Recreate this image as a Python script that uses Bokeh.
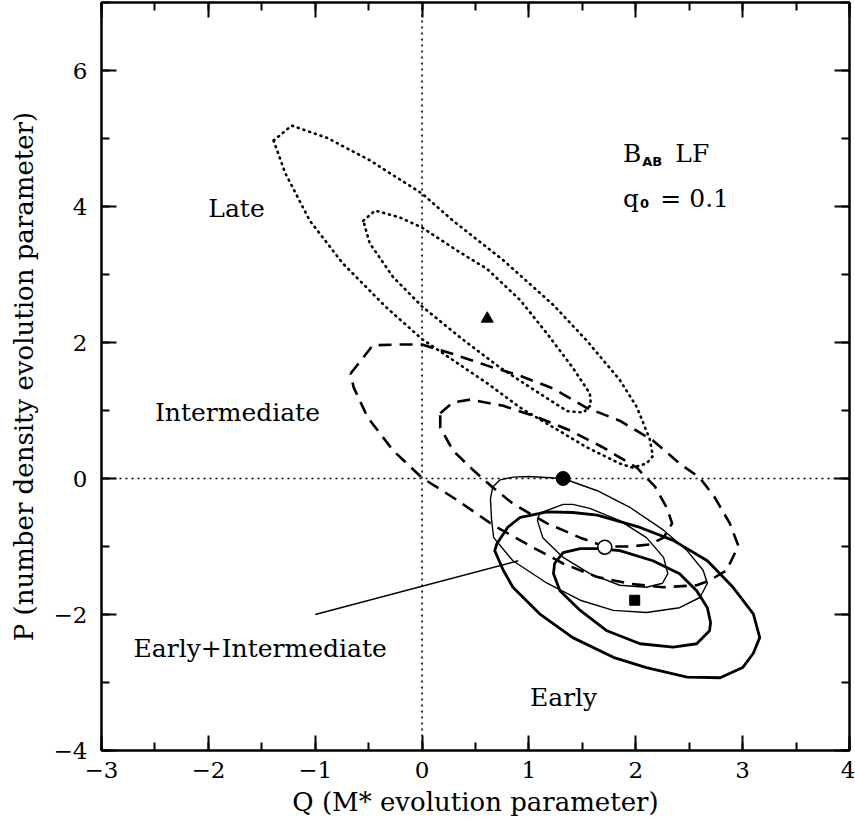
from bokeh.plotting import figure
from bokeh.models import Range1d, LinearAxis, SingleIntervalTicker, Span, CustomLabelingPolicy
from bokeh.core.properties import value
from bokeh.embed import file_html
from bokeh.resources import INLINE

# ---------------- data ----------------
x_ticks = [-3, -2, -1, 0, 1, 2, 3, 4]
y_ticks = [-4, -2, 0, 2, 4, 6]

# Late (dotted) contours
late_outer_q = [-1.39, -1.22, -0.89, -0.49, 0.0, 0.29, 0.76, 1.23, 1.54, 1.85, 2.01, 2.13, 2.16, 2.10,
                1.97, 1.85, 1.54, 1.23, 0.92, 0.61, 0.29, 0.0, -0.33, -0.74, -1.05, -1.28, -1.39]
late_outer_p = [4.97, 5.19, 5.01, 4.68, 4.19, 3.79, 3.21, 2.55, 2.03, 1.45, 1.05, 0.58, 0.33, 0.22,
                0.16, 0.22, 0.46, 0.75, 1.04, 1.40, 1.74, 2.05, 2.51, 3.16, 3.79, 4.49, 4.97]
late_inner_q = [-0.55, -0.44, -0.21, 0.0, 0.33, 0.61, 0.92, 1.17, 1.41, 1.57, 1.58, 1.51, 1.36, 1.10,
                0.73, 0.36, 0.0, -0.27, -0.49, -0.55]
late_inner_p = [3.79, 3.94, 3.84, 3.69, 3.35, 3.08, 2.62, 2.13, 1.63, 1.25, 1.08, 0.97, 0.99, 1.25,
                1.63, 2.07, 2.53, 2.96, 3.46, 3.79]

# Intermediate (dashed) contours
int_outer_q = [-0.67, -0.46, -0.21, 0.0, 0.29, 0.61, 0.92, 1.23, 1.54, 1.85, 2.16, 2.41, 2.60, 2.74,
               2.88, 2.96, 2.85, 2.69, 2.57, 2.26, 1.95, 1.64, 1.32, 1.01, 0.67, 0.33, 0.0, -0.27,
               -0.51, -0.64, -0.67]
int_outer_p = [1.54, 1.96, 1.97, 1.97, 1.83, 1.66, 1.51, 1.32, 1.04, 0.85, 0.56, 0.22, 0.01, -0.28,
               -0.66, -0.99, -1.35, -1.50, -1.57, -1.60, -1.55, -1.45, -1.25, -0.99, -0.69, -0.32,
               0.01, 0.41, 0.90, 1.34, 1.54]
int_inner_q = [0.17, 0.29, 0.45, 0.76, 1.08, 1.38, 1.69, 2.01, 2.18, 2.29, 2.34, 2.26, 2.13, 1.95,
               1.71, 1.48, 1.17, 0.85, 0.66, 0.48, 0.29, 0.17, 0.17]
int_inner_p = [0.96, 1.12, 1.16, 1.07, 0.90, 0.71, 0.46, 0.16, -0.12, -0.43, -0.66, -0.87, -0.97,
               -1.00, -1.00, -0.87, -0.66, -0.37, -0.13, 0.12, 0.41, 0.75, 0.96]

# Early+Intermediate (thin solid) contours
ei_outer_q = [0.73, 0.85, 1.00, 1.32, 1.64, 1.95, 2.26, 2.48, 2.63, 2.67, 2.60, 2.41, 2.10, 1.79,
              1.48, 1.17, 0.85, 0.67, 0.65, 0.64, 0.66, 0.73]
ei_outer_p = [-0.02, 0.02, 0.03, 0.00, -0.18, -0.43, -0.76, -1.06, -1.35, -1.54, -1.75, -1.90, -1.97,
              -1.94, -1.79, -1.54, -1.21, -0.87, -0.60, -0.30, -0.13, -0.02]
ei_inner_q = [1.32, 1.41, 1.57, 1.85, 2.10, 2.26, 2.30, 2.25, 2.10, 1.85, 1.57, 1.32, 1.13, 1.08,
              1.10, 1.32]
ei_inner_p = [-0.38, -0.38, -0.44, -0.62, -0.87, -1.16, -1.40, -1.54, -1.60, -1.57, -1.40, -1.16,
              -0.87, -0.62, -0.51, -0.38]

# Early (thick solid) contours
early_outer_q = [1.17, 1.41, 1.64, 2.04, 2.35, 2.67, 2.91, 3.10, 3.16, 3.10, 3.00, 2.79, 2.48, 2.10,
                 1.79, 1.41, 1.10, 0.85, 0.76, 0.68, 0.70, 0.80, 0.92, 1.17]
early_outer_p = [-0.49, -0.50, -0.54, -0.72, -0.91, -1.21, -1.60, -1.99, -2.34, -2.57, -2.78, -2.93,
                 -2.92, -2.78, -2.63, -2.34, -1.99, -1.60, -1.35, -1.06, -0.96, -0.72, -0.57, -0.49]
early_inner_q = [1.48, 1.64, 1.85, 2.16, 2.41, 2.57, 2.67, 2.70, 2.69, 2.57, 2.35, 2.04, 1.73, 1.48,
                 1.29, 1.23, 1.24, 1.32, 1.48]
early_inner_p = [-1.03, -1.03, -1.06, -1.21, -1.40, -1.65, -1.90, -2.12, -2.24, -2.43, -2.48, -2.43,
                 -2.24, -1.94, -1.65, -1.40, -1.25, -1.09, -1.03]

# best-fit points
late_best = (0.61, 2.35)
ei_best = (1.32, 0.00)
int_best = (1.71, -1.01)
early_best = (1.99, -1.79)

# pointer line for "Early+Intermediate"
pointer_q = [-1.00, 0.90]
pointer_p = [-2.00, -1.21]

# text labels
label_text = ["Late", "Intermediate", "Early+Intermediate", "Early"]
label_q = [-2.00, -2.50, -2.70, 1.01]
label_p = [3.97, 0.97, -2.50, -3.22]

FONT = "DejaVu Serif"

p = figure(width=855, height=830, x_range=Range1d(-3, 4), y_range=Range1d(-4, 7),
           output_backend="svg", toolbar_location=None,
           min_border_left=101, min_border_right=6, min_border_top=2, min_border_bottom=80)
p.xgrid.visible = False
p.ygrid.visible = False
p.outline_line_color = "black"
p.outline_line_width = 2
p.background_fill_color = "white"
p.border_fill_color = "white"

xt = SingleIntervalTicker(interval=1, num_minor_ticks=2)
yt = SingleIntervalTicker(interval=2, num_minor_ticks=2)

no_labels = CustomLabelingPolicy(code="""
const all = [...indices]
for (const i of all) indices.unset(i)
return indices
""")


def style_axis(ax, show_labels=True):
    ax.axis_line_width = 2
    ax.axis_line_color = "black"
    ax.major_tick_in = 15
    ax.major_tick_out = 0
    ax.minor_tick_in = 8
    ax.minor_tick_out = 0
    ax.major_tick_line_width = 2
    ax.minor_tick_line_width = 2
    ax.major_tick_line_color = "black"
    ax.minor_tick_line_color = "black"
    if show_labels:
        ax.major_label_text_font = FONT
        ax.major_label_text_font_size = "23px"
        ax.major_label_text_color = "black"
        ax.axis_label_text_font = FONT
        ax.axis_label_text_font_size = "26px"
        ax.axis_label_text_font_style = "normal"
        ax.axis_label_text_color = "black"
    else:
        ax.major_label_policy = no_labels
        ax.major_label_text_font_size = "0px"
        ax.major_label_standoff = 0
        ax.axis_label = None


p.xaxis.ticker = xt
p.yaxis.ticker = yt
style_axis(p.xaxis[0])
style_axis(p.yaxis[0])
p.xaxis.axis_label = "Q (M* evolution parameter)"
p.yaxis.axis_label = "P (number density evolution parameter)"
p.xaxis.major_label_standoff = 11
p.yaxis.major_label_standoff = 14
p.xaxis.axis_label_standoff = 6
p.yaxis.axis_label_standoff = 12
p.xaxis.major_label_overrides = {t: str(t).replace("-", "\u2212") for t in x_ticks}
p.yaxis.major_label_overrides = {t: str(t).replace("-", "\u2212") for t in y_ticks}

top = LinearAxis(ticker=SingleIntervalTicker(interval=1, num_minor_ticks=2))
right = LinearAxis(ticker=SingleIntervalTicker(interval=2, num_minor_ticks=2))
style_axis(top, False)
style_axis(right, False)
p.add_layout(top, "above")
p.add_layout(right, "right")

# reference lines at 0
p.add_layout(Span(location=0, dimension="height", line_color="black", line_width=1.6,
                  line_dash="2 4"))
p.add_layout(Span(location=0, dimension="width", line_color="black", line_width=1.6,
                  line_dash="2 4"))

# contours
for q, pp in [(late_outer_q, late_outer_p), (late_inner_q, late_inner_p)]:
    p.line(q, pp, line_color="black", line_width=2.6, line_dash="1 5", line_cap="round",
           line_join="round")
for q, pp in [(int_outer_q, int_outer_p), (int_inner_q, int_inner_p)]:
    p.line(q, pp, line_color="black", line_width=2.6, line_dash="13 8", line_join="round")
for q, pp in [(ei_outer_q, ei_outer_p), (ei_inner_q, ei_inner_p)]:
    p.line(q, pp, line_color="black", line_width=1.4, line_join="round")
for q, pp in [(early_outer_q, early_outer_p), (early_inner_q, early_inner_p)]:
    p.line(q, pp, line_color="black", line_width=2.8, line_join="round")

p.line(pointer_q, pointer_p, line_color="black", line_width=1.4)

# best-fit markers
p.scatter([late_best[0]], [late_best[1]], marker="triangle", size=12, fill_color="black",
          line_color="black")
p.scatter([ei_best[0]], [ei_best[1]], marker="circle", size=14, fill_color="black",
          line_color="black")
p.scatter([int_best[0]], [int_best[1]], marker="circle", size=14, fill_color="white",
          line_color="black", line_width=1.6)
p.scatter([early_best[0]], [early_best[1]], marker="square", size=10, fill_color="black",
          line_color="black")

# labels
p.text(label_q, label_p, text=label_text, text_font=value(FONT), text_font_size=value("25px"),
       text_baseline="alphabetic", text_align="left", text_color="black")

# B_AB LF / q_0 = 0.1
ann_main_text = ["B", "LF", "q", "=  0.1"]
ann_main_q = [1.88, 2.37, 1.88, 2.23]
ann_main_p = [4.78, 4.78, 4.12, 4.12]
ann_sub_text = ["AB", "0"]
ann_sub_q = [2.06, 2.04]
ann_sub_p = [4.66, 4.04]
p.text(ann_main_q, ann_main_p, text=ann_main_text, text_font=value(FONT),
       text_font_size=value("25px"), text_baseline="alphabetic", text_align="left",
       text_color="black")
p.text(ann_sub_q, ann_sub_p, text=ann_sub_text, text_font=value("DejaVu Sans"),
       text_font_size=value("13px"), text_font_style="bold", text_baseline="alphabetic",
       text_align="left", text_color="black")

open("out.html", "w").write(file_html(p, INLINE))
